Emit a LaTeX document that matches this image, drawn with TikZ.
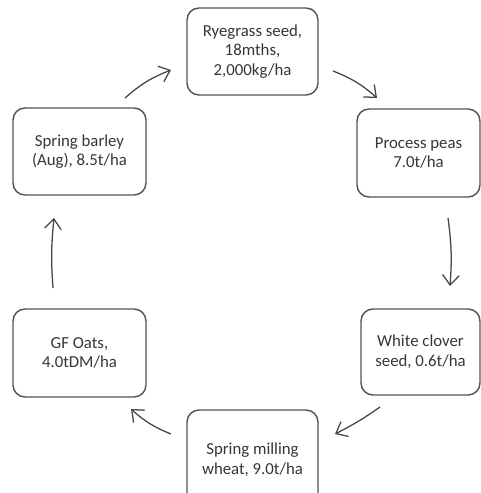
\documentclass[tikz,border=0pt]{standalone}
\usepackage{fontspec}
\setmainfont{Carlito}
\usetikzlibrary{arrows.meta}
\definecolor{boxline}{HTML}{555555}
\definecolor{txt}{HTML}{363636}
\definecolor{arr}{HTML}{454545}
\begin{document}
\begin{tikzpicture}[x=0.75pt,y=-0.75pt,
  cropbox/.style={draw=boxline, line width=1.1pt, rounded corners=9pt, fill=white,
    text=txt, align=center, font=\fontsize{12.6}{14.8}\selectfont, inner sep=0pt},
  cyc/.style={draw=arr, line width=0.95pt, -{Straight Barb[length=7.5pt,width=12.5pt]}}]
\useasboundingbox (0,0) rectangle (481,493);
\clip (0,0) rectangle (481,493);
\fill[white] (0,0) rectangle (481,493);
\node[cropbox, minimum width=131*0.75pt, minimum height=87*0.75pt] (rye) at (252.5,51.5) {Ryegrass seed,\\18mths,\\2,000kg/ha};
\node[cropbox, minimum width=123*0.75pt, minimum height=88*0.75pt] (peas) at (418.5,153) {Process peas\\7.0t/ha};
\node[cropbox, minimum width=119*0.75pt, minimum height=86*0.75pt] (clover) at (420.5,352) {White clover\\seed, 0.6t/ha};
\node[cropbox, minimum width=131*0.75pt, minimum height=100*0.75pt] (wheat) at (252.5,460) {Spring milling\\wheat, 9.0t/ha};
\node[cropbox, minimum width=133*0.75pt, minimum height=88*0.75pt] (oats) at (79.5,353) {GF Oats,\\4.0tDM/ha};
\node[cropbox, minimum width=133*0.75pt, minimum height=87*0.75pt] (barley) at (79.5,151.5) {Spring barley\\(Aug), 8.5t/ha};
\coordinate (a1s) at (125,98);  \coordinate (a1e) at (171,70);
\coordinate (a2s) at (333,71);  \coordinate (a2e) at (377,98);
\coordinate (a3s) at (448,218); \coordinate (a3e) at (450,286);
\coordinate (a4s) at (380,407); \coordinate (a4e) at (335,434);
\coordinate (a5s) at (171,434); \coordinate (a5e) at (131,409);
\coordinate (a6s) at (53,288);  \coordinate (a6e) at (54,218);
\draw[cyc] (a1s) to[bend left=10] (a1e);
\draw[cyc] (a2s) to[bend left=10] (a2e);
\draw[cyc] (a3s) to[bend left=6] (a3e);
\draw[cyc] (a4s) to[bend left=4] (a4e);
\draw[cyc] (a5s) to[bend left=10] (a5e);
\draw[cyc] (a6s) to[bend left=5] (a6e);
\end{tikzpicture}
\end{document}
